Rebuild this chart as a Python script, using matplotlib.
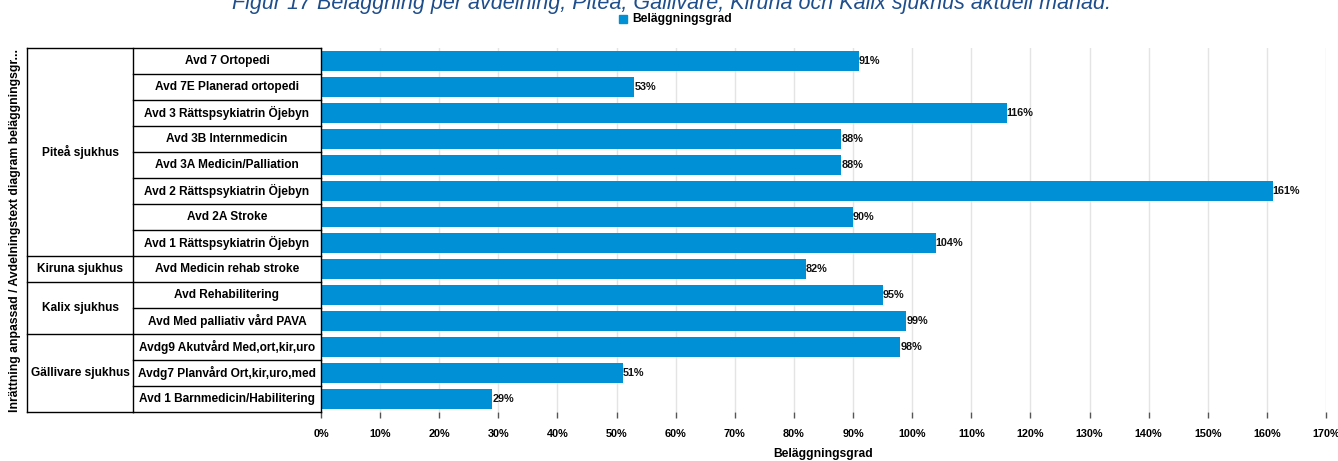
import matplotlib.pyplot as plt

# Data
groups = ["Piteå sjukhus", "Kiruna sjukhus", "Kalix sjukhus", "Gällivare sjukhus"]
group_sizes = [8, 1, 2, 3]
departments = [
    "Avd 7 Ortopedi",
    "Avd 7E Planerad ortopedi",
    "Avd 3 Rättspsykiatrin Öjebyn",
    "Avd 3B Internmedicin",
    "Avd 3A Medicin/Palliation",
    "Avd 2 Rättspsykiatrin Öjebyn",
    "Avd 2A Stroke",
    "Avd 1 Rättspsykiatrin Öjebyn",
    "Avd Medicin rehab stroke",
    "Avd Rehabilitering",
    "Avd Med palliativ vård PAVA",
    "Avdg9 Akutvård Med,ort,kir,uro",
    "Avdg7 Planvård Ort,kir,uro,med",
    "Avd 1 Barnmedicin/Habilitering",
]
occupancy = [91, 53, 116, 88, 88, 161, 90, 104, 82, 95, 99, 98, 51, 29]
xticks = list(range(0, 171, 10))

plt.rcParams['font.family'] = ['Liberation Sans', 'DejaVu Sans']

W, H = 1338, 461
fig = plt.figure(figsize=(W / 100, H / 100), dpi=100)

left, right, top, bottom = 321, 1326, 48, 412
n = len(departments)
ax = fig.add_axes([left / W, 1 - bottom / H, (right - left) / W, (bottom - top) / H])
y = list(range(n))
ax.barh(y, occupancy, height=0.8, color='#0090D6', zorder=3)
for yi, v in zip(y, occupancy):
    ax.text(v, yi, f"{v}%", va='center', ha='left', fontsize=7.8,
            fontweight='bold', color='#111111', zorder=4)
ax.set_ylim(n - 0.5, -0.5)
ax.set_xlim(0, 170)
ax.set_xticks(xticks)
ax.set_xticklabels([f"{t}%" for t in xticks], fontsize=7.8, fontweight='bold')
ax.set_yticks([])
ax.grid(axis='x', color='#e4e4e4', linewidth=1, zorder=0)
for s in ax.spines.values():
    s.set_visible(False)
ax.tick_params(axis='x', length=4, width=1, color='#555555', pad=8)
ax.set_xlabel("Beläggningsgrad", fontsize=8.7, fontweight='bold', labelpad=7)

# Label table on the left
tl = 27
tx = fig.add_axes([tl / W, 1 - bottom / H, (left - tl) / W, (bottom - top) / H])
tx.set_xlim(tl, left)
tx.set_ylim(n - 0.5, -0.5)
tx.axis('off')
split = 133
kw = dict(color='black', linewidth=1, clip_on=False)
tx.plot([tl, left], [-0.5, -0.5], **kw)
tx.plot([tl, tl], [-0.5, n - 0.5], **kw)
tx.plot([split, split], [-0.5, n - 0.5], **kw)
tx.plot([left, left], [-0.5, n - 0.5], **kw)
for i, d in enumerate(departments):
    tx.plot([split, left], [i + 0.5, i + 0.5], **kw)
    tx.text((split + left) / 2, i, d, ha='center', va='center',
            fontsize=8.6, fontweight='bold')
start = 0
for g, size in zip(groups, group_sizes):
    end = start + size
    tx.plot([tl, split], [end - 0.5, end - 0.5], **kw)
    tx.text((tl + split) / 2, (start + end - 1) / 2, g, ha='center',
            va='center', fontsize=8.6, fontweight='bold')
    start = end

fig.text(15 / W, 1 - 230 / H, "Inrättning anpassad / Avdelningstext diagram beläggningsgr...",
         rotation=90, ha='center', va='center', fontsize=8.8, fontweight='bold')

# Title (partly cut off at the top edge, as in the original) and legend
fig.text(671 / W, 1 - 9 / H,
         "Figur 17 Beläggning per avdelning, Piteå, Gällivare, Kiruna och Kalix sjukhus aktuell månad.",
         ha='center', va='baseline', fontsize=15.5, style='italic', color='#1F4E8C')
fig.patches.append(plt.Rectangle((619 / W, 1 - 23 / H), 8 / W, 8 / H,
                                 transform=fig.transFigure, color='#0090D6'))
fig.text(632 / W, 1 - 19 / H, "Beläggningsgrad", ha='left', va='center',
         fontsize=8.7, fontweight='bold')

fig.savefig("out.png", dpi=100)
